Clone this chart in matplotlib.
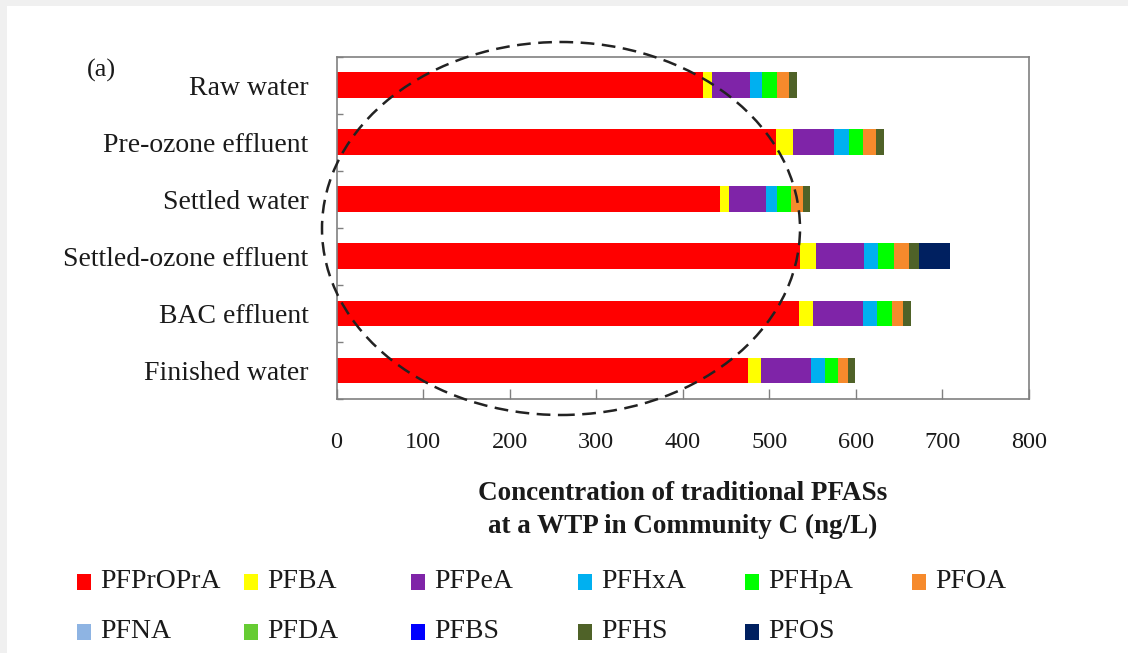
import numpy as np
import matplotlib
matplotlib.use('Agg')
import matplotlib.pyplot as plt
from matplotlib.patches import Ellipse, Rectangle

plt.rcParams['font.family'] = ['Liberation Serif', 'DejaVu Serif']

stages = ['Raw water', 'Pre-ozone effluent', 'Settled water',
          'Settled-ozone effluent', 'BAC effluent', 'Finished water']

# ng/L
PFPrOPrA = [423, 508, 443, 535, 534, 475]
PFBA = [10.5, 19.5, 11, 19.5, 17, 15.5]
PFPeA = [44, 47.5, 42, 55, 57, 58]
PFHxA = [14.5, 17, 13, 16.5, 16.5, 15.5]
PFHpA = [16.5, 16.5, 16.5, 18, 17, 15]
PFOA = [14.5, 15, 13, 17, 13, 11.5]
PFNA = [0, 0, 0, 0, 0, 0]
PFDA = [0, 0, 0, 0, 0, 0]
PFBS = [0, 0, 0, 0, 0, 0]
PFHS = [9, 8.7, 8.7, 12, 8.7, 8]
PFOS = [0, 0, 0, 36, 0, 0]

names = ['PFPrOPrA', 'PFBA', 'PFPeA', 'PFHxA', 'PFHpA', 'PFOA',
         'PFNA', 'PFDA', 'PFBS', 'PFHS', 'PFOS']
series = [PFPrOPrA, PFBA, PFPeA, PFHxA, PFHpA, PFOA,
          PFNA, PFDA, PFBS, PFHS, PFOS]
colors = ['#ff0000', '#ffff00', '#7f24a8', '#00b0f0', '#00ff00', '#f68a2c',
          '#8eb4e3', '#66cc33', '#0000ff', '#4f6228', '#002060']

xticks = [0, 100, 200, 300, 400, 500, 600, 700, 800]

W, H = 1128, 653
fig = plt.figure(figsize=(W / 100, H / 100), dpi=100)
fig.patch.set_facecolor('#f0f0f0')
fig.add_artist(Rectangle((7 / W, 0), 1, 1 - 6 / H, transform=fig.transFigure,
                         fc='white', ec='none', zorder=-5))

ax = fig.add_axes([336.5 / W, 1 - 399 / H, 692.5 / W, 342.5 / H])
ax.set_facecolor('white')

y = np.arange(len(stages))
left = np.zeros(len(stages))
for name, vals, c in zip(names, series, colors):
    vals = np.array(vals, dtype=float)
    ax.barh(y, vals, left=left, height=0.45, color=c, edgecolor='none', label=name)
    left += vals

ax.set_ylim(len(stages) - 0.5, -0.5)
ax.set_xlim(0, 800)
ax.set_yticks(y)
ax.set_yticklabels(stages)
ax.set_yticks(np.arange(-0.5, len(stages)), minor=True)
ax.set_xticks(xticks)
ax.set_xticklabels([str(t) for t in xticks])

ax.tick_params(axis='y', which='major', length=0, pad=20, labelsize=20, labelcolor='#1a1a1a')
ax.tick_params(axis='y', which='minor', direction='in', length=4, width=1, color='#808080')
ax.tick_params(axis='x', which='major', direction='in', length=7, width=1, color='#808080',
               pad=24, labelsize=17.5, labelcolor='#1a1a1a')
for s in ax.spines.values():
    s.set_color('#808080')
    s.set_linewidth(1.2)

ax.set_xlabel('Concentration of traditional PFASs\nat a WTP in Community C (ng/L)',
              fontsize=19.5, fontweight='bold', color='#1a1a1a', labelpad=20,
              linespacing=1.38)

fig.text(101 / W, 1 - 70 / H, '(a)', ha='center', va='center', fontsize=19, color='#1a1a1a')

# dashed ellipse annotation
fig.add_artist(Ellipse((561 / W, 1 - 228.5 / H), 478 / W, 373 / H, transform=fig.transFigure,
                       fill=False, ec='#222222', lw=1.8, ls=(0, (5.5, 3)), zorder=10))

# legend laid out like the original: 6 columns, row-major
col_x = [77, 244, 411, 578, 745, 912]
row_y = [582, 632]
for i, (name, c) in enumerate(zip(names, colors)):
    r, k = divmod(i, 6)
    x0, y0 = col_x[k], row_y[r]
    fig.add_artist(Rectangle((x0 / W, 1 - (y0 + 8) / H), 14 / W, 16 / H,
                             transform=fig.transFigure, fc=c, ec='none'))
    fig.text((x0 + 23) / W, 1 - y0 / H, name, ha='left', va='center',
             fontsize=20, color='#1a1a1a')

fig.savefig('out.png', dpi=100)
